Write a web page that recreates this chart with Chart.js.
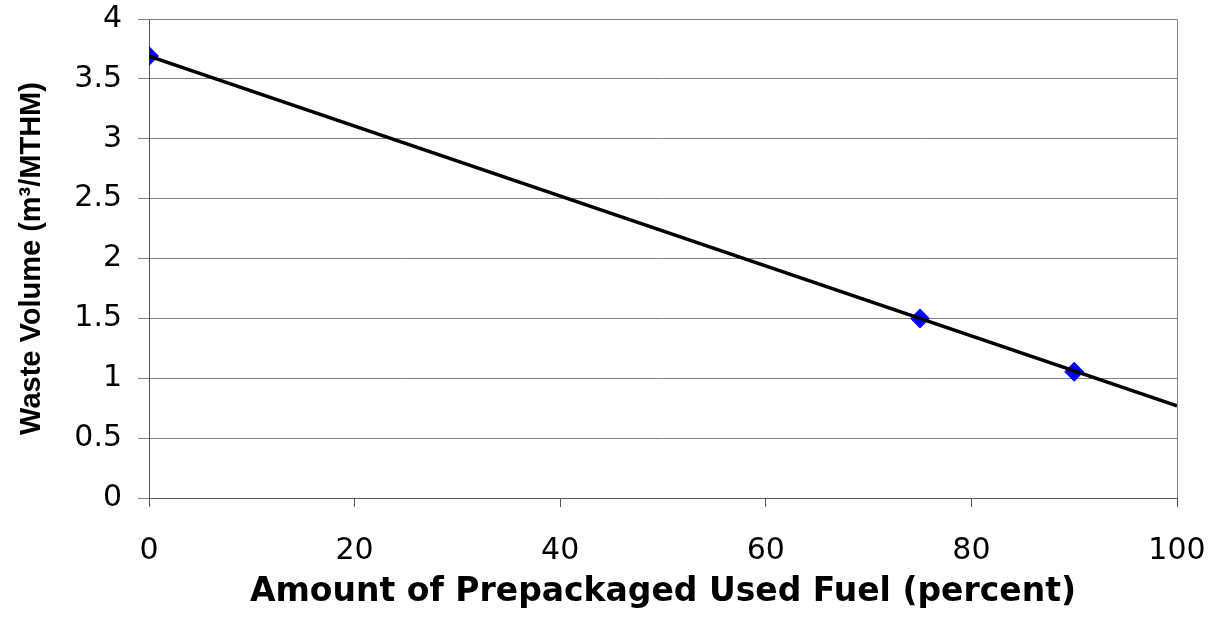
<!DOCTYPE html>
<html>
<head>
<meta charset="utf-8">
<script src="https://cdn.jsdelivr.net/npm/chart.js@4/dist/chart.umd.min.js"></script>
<style>
  html, body { margin: 0; padding: 0; background: #fff; }
  #wrap { width: 1217px; height: 632px; }
</style>
</head>
<body>
<div id="wrap"><canvas id="chart" width="1217" height="632"></canvas></div>
<script>
// measured points
const fuelPercent = [0, 75, 90];
const wasteVolume = [3.69, 1.50, 1.055];
// linear trendline, read at its two ends
const trendPercent = [0, 100];
const trendVolume = [3.69, 0.77];

const xTicks = [0, 20, 40, 60, 80, 100];
const yTicks = [0, 0.5, 1, 1.5, 2, 2.5, 3, 3.5, 4];

const wide = 'DejaVu Sans, Verdana, sans-serif';
const narrow = 'Liberation Sans, Arial, sans-serif';

const frame = {
  id: 'frame',
  afterDraw(chart) {
    const { ctx, chartArea: a } = chart;
    ctx.save();
    ctx.strokeStyle = '#808080';
    ctx.lineWidth = 1;
    ctx.beginPath();
    ctx.moveTo(a.left, a.top + 0.5);
    ctx.lineTo(a.right + 0.5, a.top + 0.5);
    ctx.lineTo(a.right + 0.5, a.bottom);
    ctx.stroke();
    ctx.restore();
  }
};

new Chart(document.getElementById('chart'), {
  type: 'scatter',
  data: {
    datasets: [
      {
        label: 'Trend',
        data: trendPercent.map((x, i) => ({ x, y: trendVolume[i] })),
        showLine: true,
        borderColor: '#000',
        borderWidth: 3.5,
        pointRadius: 0,
        order: 0
      },
      {
        label: 'Waste volume',
        data: fuelPercent.map((x, i) => ({ x, y: wasteVolume[i] })),
        pointStyle: 'rectRot',
        pointRadius: 10,
        backgroundColor: '#0000ff',
        borderColor: '#0000ff',
        borderWidth: 0,
        order: 1
      }
    ]
  },
  options: {
    responsive: false,
    animation: false,
    layout: { padding: { left: 0, right: 40, top: 19, bottom: 0 } },
    plugins: { legend: { display: false }, tooltip: { enabled: false } },
    scales: {
      x: {
        type: 'linear',
        min: 0,
        max: 100,
        afterBuildTicks: s => { s.ticks = xTicks.map(v => ({ value: v })); },
        afterFit: s => { s.height = 134; s.paddingLeft = 0; s.paddingRight = 0; },
        grid: { drawOnChartArea: false, drawTicks: true, tickLength: 9, color: '#555' },
        border: { color: '#555', width: 1 },
        ticks: { color: '#000', font: { family: wide, size: 30 }, padding: 26, maxRotation: 0 },
        title: {
          display: true,
          text: 'Amount of Prepackaged Used Fuel (percent)',
          color: '#000',
          font: { family: wide, size: 33, weight: 'bold' },
          padding: { top: 0, bottom: 20 }
        }
      },
      y: {
        type: 'linear',
        min: 0,
        max: 4,
        afterBuildTicks: s => { s.ticks = yTicks.map(v => ({ value: v })); },
        afterFit: s => { s.width = 149; s.paddingTop = 0; s.paddingBottom = 0; },
        grid: { color: '#808080', lineWidth: 1, drawTicks: true, tickLength: 11 },
        border: { color: '#555', width: 1 },
        ticks: { color: '#000', font: { family: wide, size: 30 }, padding: 16,
          callback: v => String(v) },
        title: {
          display: true,
          text: 'Waste Volume (m³/MTHM)',
          color: '#000',
          font: { family: narrow, size: 29, weight: 'bold' },
          padding: { top: 15, bottom: 0 }
        }
      }
    }
  },
  plugins: [frame]
});
</script>
</body>
</html>
